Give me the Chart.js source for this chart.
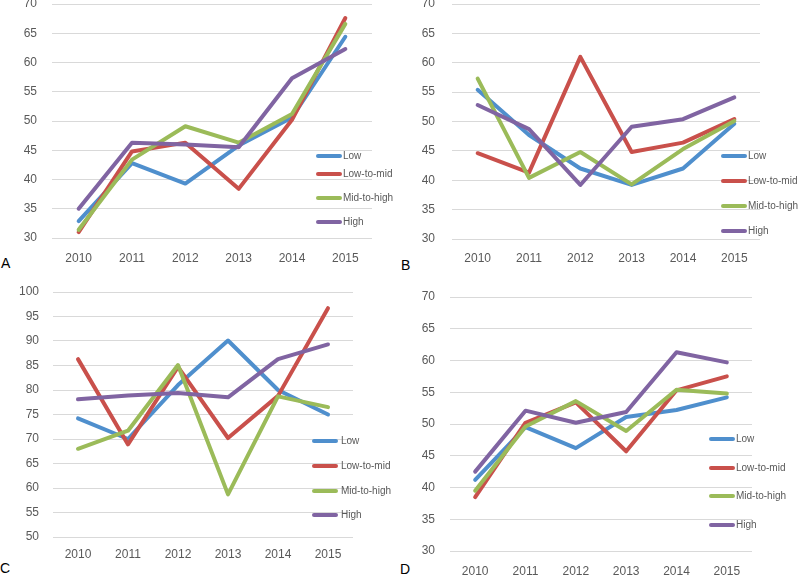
<!DOCTYPE html>
<html>
<head>
<meta charset="utf-8">
<script src="https://cdn.jsdelivr.net/npm/chart.js@4/dist/chart.umd.min.js"></script>
<style>
  html, body { margin:0; padding:0; background:#fff; }
  body { width:800px; height:575px; position:relative; overflow:hidden; font-family:"Liberation Sans", Arial, sans-serif; }
  .wrap { position:absolute; }
  .lbl { position:absolute; font-size:14px; color:#000; font-family:"Liberation Sans", Arial, sans-serif; line-height:14px; }
</style>
</head>
<body>
<div class="lbl" style="left:1px;top:256px;">A</div>
<div class="lbl" style="left:401px;top:258px;">B</div>
<div class="lbl" style="left:0px;top:561px;">C</div>
<div class="lbl" style="left:400px;top:562px;">D</div>
<script>
// ---- data ----
const years = ['2010', '2011', '2012', '2013', '2014', '2015'];
const seriesNames = ['Low', 'Low-to-mid', 'Mid-to-high', 'High'];
const seriesColors = ['#4F8FCD', '#C9504B', '#9BBB59', '#8064A2'];

const aLow     = [32.9, 42.8, 39.3, 45.8, 50.6, 64.4];
const aLowMid  = [31.0, 44.8, 46.3, 38.4, 50.2, 67.6];
const aMidHigh = [31.4, 43.4, 49.1, 46.3, 51.2, 66.6];
const aHigh    = [35.0, 46.3, 46.0, 45.5, 57.3, 62.3];

const bLow     = [55.4, 47.7, 42.0, 39.2, 42.0, 49.6];
const bLowMid  = [44.6, 41.3, 61.0, 44.8, 46.4, 50.4];
const bMidHigh = [57.3, 40.4, 44.8, 39.3, 45.3, 50.1];
const bHigh    = [52.8, 48.7, 39.2, 49.1, 50.4, 54.1];

const cLow     = [74.2, 70.0, 81.0, 90.1, 80.0, 75.0];
const cLowMid  = [86.3, 68.9, 84.7, 70.2, 78.8, 96.7];
const cMidHigh = [68.0, 71.7, 85.1, 58.7, 78.7, 76.5];
const cHigh    = [78.1, 78.9, 79.4, 78.5, 86.3, 89.3];

const dLow     = [41.2, 49.5, 46.2, 51.1, 52.2, 54.2];
const dLowMid  = [38.5, 50.2, 53.4, 45.7, 55.3, 57.5];
const dMidHigh = [39.5, 49.6, 53.6, 48.9, 55.4, 54.8];
const dHigh    = [42.5, 52.1, 50.2, 51.9, 61.3, 59.7];

const yRangeA = [30, 70], yRangeB = [30, 70], yRangeC = [50, 100], yRangeD = [30, 70];
const yStep = 5;

// ---- legend plugin ----
const panelLegend = {
  id: 'panelLegend',
  afterDraw(chart, args, opts) {
    const ctx = chart.ctx;
    ctx.save();
    ctx.font = '10px "Liberation Sans", Arial, sans-serif';
    ctx.textBaseline = 'middle';
    ctx.textAlign = 'left';
    chart.data.datasets.forEach((ds, i) => {
      const y = opts.ys[i];
      ctx.strokeStyle = ds.borderColor;
      ctx.lineWidth = 4;
      ctx.lineCap = 'round';
      ctx.beginPath();
      ctx.moveTo(opts.x, y);
      ctx.lineTo(opts.x + 22, y);
      ctx.stroke();
      ctx.fillStyle = '#595959';
      ctx.fillText(ds.label, opts.textX, y + 0.5);
    });
    ctx.restore();
  }
};

function makePanel(px, area, range, series, legend, labelGap, xGap) {
  // area: [L, T, R, B] in page coords
  const [L, T, R, B] = area;
  const cx = px, cy = T - 10;
  const w = 400, h = B - cy + 32;
  const wrap = document.createElement('div');
  wrap.className = 'wrap';
  wrap.style.left = cx + 'px';
  wrap.style.top = cy + 'px';
  wrap.style.width = w + 'px';
  wrap.style.height = h + 'px';
  const cv = document.createElement('canvas');
  cv.width = w; cv.height = h;
  cv.style.width = w + 'px'; cv.style.height = h + 'px';
  cv.style.display = 'block';
  wrap.appendChild(cv);
  document.body.appendChild(wrap);

  const datasets = series.map((d, i) => ({
    label: seriesNames[i],
    data: d,
    borderColor: seriesColors[i],
    backgroundColor: seriesColors[i],
    borderWidth: 4,
    pointRadius: 0,
    tension: 0,
    borderJoinStyle: 'round',
    borderCapStyle: 'round',
    fill: false,
    order: 3 - i
  }));

  new Chart(cv, {
    type: 'line',
    data: { labels: years, datasets },
    plugins: [panelLegend],
    options: {
      responsive: false,
      animation: false,
      devicePixelRatio: 1,
      layout: { padding: { left: 0, top: 10, right: cx + w - R, bottom: 0 } },
      plugins: {
        legend: { display: false },
        tooltip: { enabled: false },
        panelLegend: { x: legend.x - cx, textX: legend.textX - cx, ys: legend.ys.map(v => v - cy) }
      },
      scales: {
        x: {
          offset: true,
          grid: { display: false, drawTicks: false },
          border: { display: false },
          ticks: { color: '#595959', font: { family: '"Liberation Sans", Arial, sans-serif', size: 12 }, padding: xGap, maxRotation: 0 },
          afterFit: s => { s.height = 32; s.paddingLeft = 0; s.paddingRight = 0; }
        },
        y: {
          min: range[0], max: range[1],
          grid: { color: '#d9d9d9', lineWidth: 1, drawTicks: false },
          border: { display: false },
          ticks: { stepSize: yStep, color: '#595959', font: { family: '"Liberation Sans", Arial, sans-serif', size: 12 }, padding: labelGap },
          afterFit: s => { s.width = L - cx; s.paddingTop = 0; s.paddingBottom = 0; }
        }
      }
    }
  });
}

makePanel(0,   [52, 4, 372, 238],   yRangeA, [aLow, aLowMid, aMidHigh, aHigh],
  { x: 318, textX: 343, ys: [156, 174, 198, 222] }, 15, 13);
makePanel(400, [452, 4, 760, 239],  yRangeB, [bLow, bLowMid, bMidHigh, bHigh],
  { x: 723, textX: 748, ys: [156, 181, 206, 231] }, 17, 12);
makePanel(0,   [53, 292, 353, 537], yRangeC, [cLow, cLowMid, cMidHigh, cHigh],
  { x: 314, textX: 341, ys: [441, 466, 491, 515] }, 14, 10);
makePanel(400, [450, 297, 752, 551], yRangeD, [dLow, dLowMid, dMidHigh, dHigh],
  { x: 711, textX: 736, ys: [439, 468, 496, 525] }, 15, 13);
</script>
</body>
</html>
